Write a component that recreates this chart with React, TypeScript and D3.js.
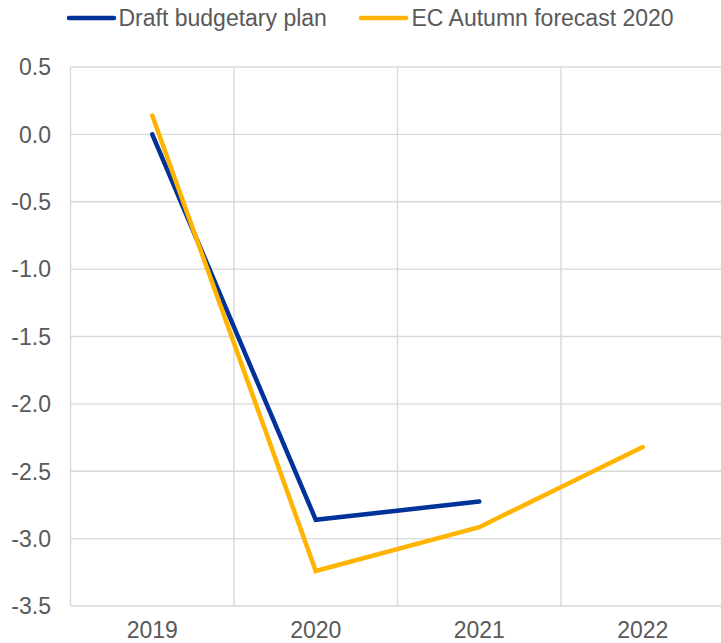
import React from "react";
import * as d3 from "d3";

const years = ["2019", "2020", "2021", "2022"];
const draftValues: (number | null)[] = [0.0, -2.86, -2.725, null];
const ecValues: (number | null)[] = [0.14, -3.24, -2.915, -2.32];
const yTicks = [0.5, 0.0, -0.5, -1.0, -1.5, -2.0, -2.5, -3.0, -3.5];
const seriesNames = ["Draft budgetary plan", "EC Autumn forecast 2020"];
const seriesColors = ["#003299", "#ffb400"];

const W = 721;
const H = 643;
const FONT = "'Liberation Sans', Arial, sans-serif";
const TEXT = "#595959";
const GRID = "#d9d9d9";

export default function App() {
  const x = d3.scaleBand<string>().domain(years).range([70.5, 724.5]).padding(0);
  const y = d3.scaleLinear().domain([-3.5, 0.5]).range([606, 67]);
  const cx = (yr: string) => (x(yr) as number) + x.bandwidth() / 2;

  const line = d3
    .line<{ yr: string; v: number | null }>()
    .defined((d) => d.v !== null)
    .x((d) => cx(d.yr))
    .y((d) => y(d.v as number));

  const series = [draftValues, ecValues].map((vals) =>
    years.map((yr, i) => ({ yr, v: vals[i] }))
  );

  const legendItems = [
    { lineX: 69, textX: 118.5 },
    { lineX: 361, textX: 411.5 },
  ];

  return (
    <svg
      width={W}
      height={H}
      style={{ position: "absolute", left: 0, top: 0, background: "#fff" }}
      fontFamily={FONT}
    >
      {/* horizontal gridlines */}
      {yTicks.map((t) => (
        <line
          key={"h" + t}
          x1={70.5}
          x2={W}
          y1={y(t)}
          y2={y(t)}
          stroke={GRID}
          strokeWidth={1.4}
        />
      ))}
      {/* vertical gridlines */}
      {years.map((yr) => (
        <line
          key={"v" + yr}
          x1={x(yr) as number}
          x2={x(yr) as number}
          y1={y(0.5)}
          y2={y(-3.5)}
          stroke={GRID}
          strokeWidth={1.4}
        />
      ))}
      {/* y tick labels */}
      {yTicks.map((t) => (
        <text
          key={"yt" + t}
          x={51}
          y={y(t) + 8.3}
          textAnchor="end"
          fontSize={23}
          fill={TEXT}
        >
          {t.toFixed(1)}
        </text>
      ))}
      {/* x tick labels */}
      {years.map((yr) => (
        <text
          key={"xt" + yr}
          x={cx(yr)}
          y={638}
          textAnchor="middle"
          fontSize={23}
          fill={TEXT}
        >
          {yr}
        </text>
      ))}
      {/* series lines */}
      {series.map((s, i) => (
        <path
          key={"s" + i}
          d={line(s) || ""}
          fill="none"
          stroke={seriesColors[i]}
          strokeWidth={4.5}
          strokeLinecap="round"
          strokeLinejoin="miter"
        />
      ))}
      {/* legend */}
      {seriesNames.map((name, i) => (
        <g key={"lg" + i}>
          <line
            x1={legendItems[i].lineX}
            x2={legendItems[i].lineX + 45}
            y1={18}
            y2={18}
            stroke={seriesColors[i]}
            strokeWidth={4.5}
            strokeLinecap="round"
          />
          <text
            x={legendItems[i].textX}
            y={26}
            fontSize={23}
            fill={TEXT}
          >
            {name}
          </text>
        </g>
      ))}
    </svg>
  );
}
